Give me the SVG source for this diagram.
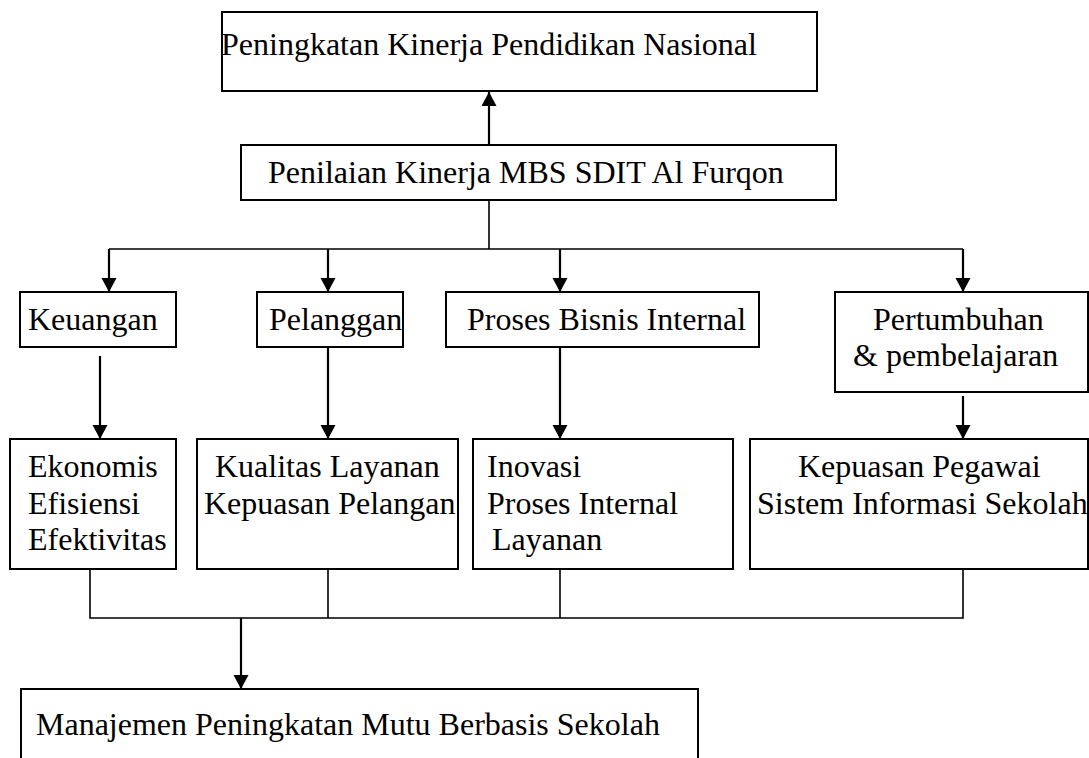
<svg xmlns="http://www.w3.org/2000/svg" width="1089" height="758" viewBox="0 0 1089 758">
<style>
.box{fill:#fff;stroke:#000;stroke-width:2}
.t{font-family:"Liberation Serif","Times New Roman",serif;font-size:32px;fill:#000}
.arr{stroke:#000;stroke-width:2.2;fill:none}
.ln{stroke:#000;stroke-width:1.6;fill:none}
</style>
<defs>
<marker id="ah" markerUnits="userSpaceOnUse" markerWidth="15" markerHeight="16" refX="14" refY="7.5" orient="auto">
<path d="M0,0 L14,7.5 L0,15 z" fill="#000"/>
</marker>
</defs>
<rect width="1089" height="758" fill="#fff"/>
<g id="connectors">
<line class="arr" x1="489" y1="145" x2="489" y2="92" marker-end="url(#ah)"/>
<polyline class="ln" points="489,200 489,249"/>
<polyline class="ln" points="109,249 963,249"/>
<line class="arr" x1="109" y1="249" x2="109" y2="292" marker-end="url(#ah)"/>
<line class="arr" x1="328" y1="249" x2="328" y2="292" marker-end="url(#ah)"/>
<line class="arr" x1="560" y1="249" x2="560" y2="292" marker-end="url(#ah)"/>
<line class="arr" x1="963" y1="249" x2="963" y2="292" marker-end="url(#ah)"/>
<line class="arr" x1="100" y1="356" x2="100" y2="439" marker-end="url(#ah)"/>
<line class="arr" x1="328" y1="347" x2="328" y2="439" marker-end="url(#ah)"/>
<line class="arr" x1="560" y1="347" x2="560" y2="439" marker-end="url(#ah)"/>
<line class="arr" x1="963" y1="396" x2="963" y2="439" marker-end="url(#ah)"/>
<polyline class="ln" points="90,569 90,618 963,618 963,569"/>
<line class="ln" x1="328" y1="569" x2="328" y2="618"/>
<line class="ln" x1="560" y1="569" x2="560" y2="618"/>
<line class="arr" x1="241" y1="618" x2="241" y2="689" marker-end="url(#ah)"/>
</g>
<g id="n-peningkatan">
<rect class="box" x="222" y="12" width="595" height="79"/>
<text class="t" x="221" y="55">Peningkatan Kinerja Pendidikan Nasional</text>
</g>
<g id="n-penilaian">
<rect class="box" x="241" y="145" width="595" height="55"/>
<text class="t" x="268" y="183">Penilaian Kinerja MBS SDIT Al Furqon</text>
</g>
<g id="n-keuangan">
<rect class="box" x="20" y="292" width="156" height="55"/>
<text class="t" x="28" y="330">Keuangan</text>
</g>
<g id="n-pelanggan">
<rect class="box" x="257" y="292" width="146" height="55"/>
<text class="t" x="269" y="330">Pelanggan</text>
</g>
<g id="n-proses">
<rect class="box" x="446" y="292" width="313" height="55"/>
<text class="t" x="467" y="330">Proses Bisnis Internal</text>
</g>
<g id="n-pertumbuhan">
<rect class="box" x="835" y="292" width="253" height="100"/>
<text class="t" x="873" y="330">Pertumbuhan</text>
<text class="t" x="853" y="366">&amp; pembelajaran</text>
</g>
<g id="n-ekonomis">
<rect class="box" x="10" y="439" width="166" height="130"/>
<text class="t" x="28" y="477">Ekonomis</text>
<text class="t" x="28" y="514">Efisiensi</text>
<text class="t" x="28" y="550">Efektivitas</text>
</g>
<g id="n-kualitas">
<rect class="box" x="197" y="439" width="261" height="130"/>
<text class="t" x="215" y="477">Kualitas Layanan</text>
<text class="t" x="204" y="514">Kepuasan Pelangan</text>
</g>
<g id="n-inovasi">
<rect class="box" x="473" y="439" width="260" height="130"/>
<text class="t" x="487" y="477">Inovasi</text>
<text class="t" x="487" y="514">Proses Internal</text>
<text class="t" x="492" y="550">Layanan</text>
</g>
<g id="n-kepuasan">
<rect class="box" x="750" y="439" width="338" height="130"/>
<text class="t" x="798" y="477">Kepuasan Pegawai</text>
<text class="t" x="757" y="514">Sistem Informasi Sekolah</text>
</g>
<g id="n-manajemen">
<rect class="box" x="21" y="689" width="677" height="80"/>
<text class="t" x="36" y="735">Manajemen Peningkatan Mutu Berbasis Sekolah</text>
</g>
</svg>
